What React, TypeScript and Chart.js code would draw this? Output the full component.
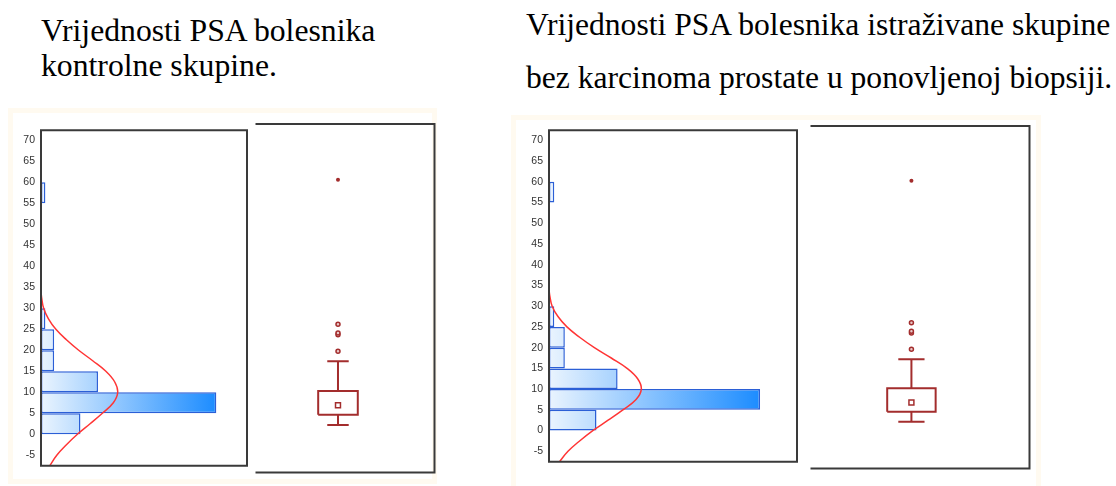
import React, { useEffect, useRef } from "react";
import { Chart, registerables } from "chart.js";

Chart.register(...registerables);

// ---------- data ----------
const titleLeft = ["Vrijednosti PSA bolesnika", "kontrolne skupine."];
const titleRight = [
  "Vrijednosti PSA bolesnika istraživane skupine",
  "bez karcinoma prostate u ponovljenoj biopsiji.",
];

const yTickLabels = [-5, 0, 5, 10, 15, 20, 25, 30, 35, 40, 45, 50, 55, 60, 65, 70];

// histogram bins (PSA value ranges) and their frequencies
const binStarts = [0, 5, 10, 15, 20, 25, 30, 35, 40, 45, 50, 55];
const binCounts = [9, 40, 13, 3, 3, 1, 0, 0, 0, 0, 0, 1];

// fitted normal curve (PSA value -> frequency)
const curveValues = [-7.5, -5, -2.5, 0, 2.5, 5, 7.5, 10, 12.5, 15, 17.5, 20, 22.5, 25, 27.5, 30, 32.5, 34];
const curveCounts = [2.0, 3.6, 5.8, 8.3, 11.2, 14.0, 16.5, 17.5, 16.8, 14.8, 11.8, 8.6, 5.8, 3.4, 1.7, 0.6, 0.15, 0];

// box plot
const boxQ1 = 5.75;
const boxQ3 = 11.2;
const boxMedian = 7.9;
const whiskerLow = 3.4;
const whiskerHigh = 18.0;
const outliers = [20.3, 24.1, 24.5, 26.5];
const farOutliers = [59.6];

// ---------- styling constants ----------
const Y_MIN = -7.5;
const Y_MAX = 72.4;
const X_MAX = 47;
const BIN_WIDTH = binStarts[1] - binStarts[0];
const BOX_HALF = 0.24;
const CAP_HALF = 0.13;
const BOX_COLOR = "#a32d2d";
const FRAME_COLOR = "#3a3a3a";

function makeFramePlugin(noLeft: boolean) {
  return {
    id: noLeft ? "frameOpen" : "frameFull",
    afterDraw(chart: any) {
      const { ctx, chartArea: a } = chart;
      if (!a) return;
      ctx.save();
      ctx.strokeStyle = FRAME_COLOR;
      ctx.lineWidth = 2;
      ctx.lineJoin = "miter";
      ctx.beginPath();
      if (noLeft) {
        ctx.moveTo(a.left, a.top);
        ctx.lineTo(a.right, a.top);
        ctx.lineTo(a.right, a.bottom);
        ctx.lineTo(a.left, a.bottom);
      } else {
        ctx.rect(a.left, a.top, a.right - a.left, a.bottom - a.top);
      }
      ctx.stroke();
      ctx.restore();
    },
  };
}

// make each histogram bar exactly one bin tall on the linear value scale
const binThicknessPlugin = {
  id: "binThickness",
  beforeDatasetsUpdate(chart: any) {
    const y = chart.scales.y;
    if (!y) return;
    const px = Math.abs(y.getPixelForValue(binStarts[0] + BIN_WIDTH) - y.getPixelForValue(binStarts[0]));
    chart.data.datasets.forEach((ds: any) => {
      if (ds.type === "bar") ds.barThickness = px;
    });
  },
};

const barGradient = (c: any) => {
  const chart = c.chart;
  const area = chart.chartArea;
  if (!area) return "#8fc3f8";
  const end = chart.scales.x.getPixelForValue(Math.max(...binCounts));
  const g = chart.ctx.createLinearGradient(area.left, 0, end, 0);
  g.addColorStop(0, "#eaf4fe");
  g.addColorStop(1, "#1c8cff");
  return g;
};

function histConfig(axisWidth: number, padding: any) {
  return {
    type: "bar",
    data: {
      datasets: [
        {
          type: "line",
          data: curveValues.map((v, i) => ({ x: curveCounts[i], y: v })),
          borderColor: "#ff3535",
          borderWidth: 1.5,
          pointRadius: 0,
          tension: 0.4,
          fill: false,
          order: 0,
        },
        {
          type: "bar",
          data: binStarts.map((s, i) => ({ x: binCounts[i], y: s + BIN_WIDTH / 2 })),
          backgroundColor: barGradient,
          borderColor: "#2b5fd6",
          borderWidth: (c: any) => (c.raw && c.raw.x > 0 ? 1.5 : 0),
          borderSkipped: false,
          inflateAmount: 0,
          barPercentage: 1,
          categoryPercentage: 1,
          order: 1,
        },
      ],
    },
    options: {
      indexAxis: "y",
      animation: false,
      responsive: false,
      maintainAspectRatio: false,
      events: [],
      layout: { padding },
      plugins: { legend: { display: false }, tooltip: { enabled: false } },
      scales: {
        x: { type: "linear", min: 0, max: X_MAX, display: false },
        y: {
          type: "linear",
          min: Y_MIN,
          max: Y_MAX,
          offset: false,
          grid: { display: false, drawTicks: false },
          border: { display: false },
          ticks: {
            color: "#333",
            padding: 6,
            autoSkip: false,
            font: { family: "'Liberation Sans', Arial, sans-serif", size: 10.5 },
          },
          afterBuildTicks: (a: any) => {
            a.ticks = yTickLabels.map((v) => ({ value: v }));
          },
          afterFit: (a: any) => {
            a.width = axisWidth;
          },
        },
      },
    },
    plugins: [binThicknessPlugin, makeFramePlugin(false)],
  };
}

function boxConfig(padding: any) {
  const seg = (pts: any[]) => ({
    data: pts,
    showLine: true,
    borderColor: BOX_COLOR,
    borderWidth: 2,
    pointRadius: 0,
    fill: false,
    tension: 0,
    borderJoinStyle: "miter",
  });
  return {
    type: "scatter",
    data: {
      datasets: [
        seg([
          { x: -BOX_HALF, y: boxQ1 },
          { x: BOX_HALF, y: boxQ1 },
          { x: BOX_HALF, y: boxQ3 },
          { x: -BOX_HALF, y: boxQ3 },
          { x: -BOX_HALF, y: boxQ1 },
        ]),
        seg([{ x: 0, y: boxQ3 }, { x: 0, y: whiskerHigh }]),
        seg([{ x: -CAP_HALF, y: whiskerHigh }, { x: CAP_HALF, y: whiskerHigh }]),
        seg([{ x: 0, y: boxQ1 }, { x: 0, y: whiskerLow }]),
        seg([{ x: -CAP_HALF, y: whiskerLow }, { x: CAP_HALF, y: whiskerLow }]),
        {
          data: [{ x: 0, y: boxMedian }],
          pointStyle: "rect",
          pointRadius: 3.5,
          borderWidth: 1.5,
          borderColor: BOX_COLOR,
          backgroundColor: "#ffffff",
        },
        {
          data: outliers.map((v) => ({ x: 0, y: v })),
          pointStyle: "circle",
          pointRadius: 2,
          borderWidth: 1.5,
          borderColor: BOX_COLOR,
          backgroundColor: "#e8c8c8",
        },
        {
          data: farOutliers.map((v) => ({ x: 0, y: v })),
          pointStyle: "circle",
          pointRadius: 2,
          borderWidth: 0,
          backgroundColor: BOX_COLOR,
        },
      ],
    },
    options: {
      animation: false,
      responsive: false,
      maintainAspectRatio: false,
      events: [],
      layout: { padding },
      plugins: { legend: { display: false }, tooltip: { enabled: false } },
      scales: {
        x: { type: "linear", min: -1, max: 1.17, display: false },
        y: { type: "linear", min: Y_MIN, max: Y_MAX, display: false },
      },
    },
    plugins: [makeFramePlugin(true)],
  };
}

function ChartCanvas(props: { make: () => any; left: number; top: number; width: number; height: number }) {
  const ref = useRef<HTMLCanvasElement | null>(null);
  useEffect(() => {
    const chart = new Chart(ref.current as HTMLCanvasElement, props.make());
    return () => chart.destroy();
  }, []);
  return (
    <canvas
      ref={ref}
      width={props.width}
      height={props.height}
      style={{
        position: "absolute",
        left: props.left,
        top: props.top,
        width: props.width,
        height: props.height,
      }}
    />
  );
}

const titleFont = "'Liberation Serif', 'Times New Roman', serif";

export default function App() {
  return (
    <div
      style={{
        position: "absolute",
        left: 0,
        top: 0,
        width: 1116,
        height: 486,
        background: "#ffffff",
        overflow: "hidden",
      }}
    >
      <div
        style={{
          position: "absolute",
          left: 8,
          top: 108,
          width: 429,
          height: 376,
          border: "5px solid #fffaf0",
          boxSizing: "border-box",
        }}
      />
      <div
        style={{
          position: "absolute",
          left: 511,
          top: 115,
          width: 530,
          height: 380,
          border: "5px solid #fffaf0",
          boxSizing: "border-box",
        }}
      />
      <div
        style={{
          position: "absolute",
          left: 41,
          top: 13,
          fontFamily: titleFont,
          fontSize: 31.7,
          lineHeight: "35px",
          color: "#000",
          whiteSpace: "nowrap",
        }}
      >
        {titleLeft.map((t, i) => (
          <div key={i}>{t}</div>
        ))}
      </div>
      <div
        style={{
          position: "absolute",
          left: 526,
          top: -2,
          fontFamily: titleFont,
          fontSize: 31.6,
          lineHeight: "53px",
          color: "#000",
          whiteSpace: "nowrap",
        }}
      >
        {titleRight.map((t, i) => (
          <div key={i}>{t}</div>
        ))}
      </div>
      <ChartCanvas
        make={() => histConfig(31, { left: 0, right: 3, top: 6, bottom: 5 })}
        left={10}
        top={118}
        width={240}
        height={360}
      />
      <ChartCanvas
        make={() => boxConfig({ left: 4, right: 5, top: 6, bottom: 5 })}
        left={250}
        top={118}
        width={190}
        height={360}
      />
      <ChartCanvas
        make={() => histConfig(34, { left: 0, right: 4, top: 7, bottom: 6 })}
        left={515}
        top={118}
        width={286}
        height={356}
      />
      <ChartCanvas
        make={() => boxConfig({ left: 4, right: 5, top: 8, bottom: 5 })}
        left={805}
        top={118}
        width={230}
        height={356}
      />
    </div>
  );
}
